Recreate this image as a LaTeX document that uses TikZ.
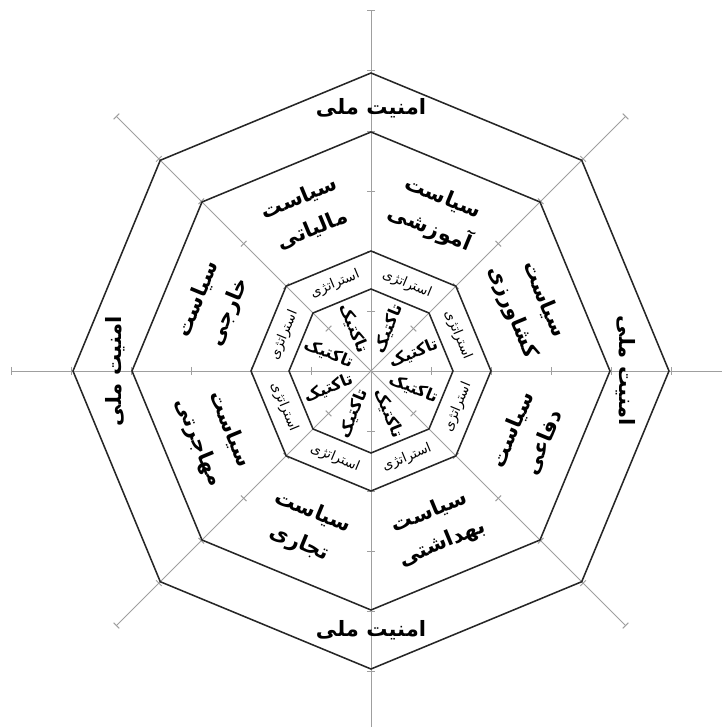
\documentclass[tikz,border=0pt]{standalone}
\usepackage{fontspec}
\newfontfamily\arabicfont[Script=Arabic]{DejaVu Sans}
\TeXXeTstate=1
\usepackage{tikz}
\usetikzlibrary{calc}

\tikzset{
  spoke/.style={draw=gray!75, line width=0.7pt},
  ring/.style={draw=black!85, line width=1.1pt},
  amnlbl/.style={font=\arabicfont\bfseries\fontsize{15}{18}\selectfont, inner sep=1pt},
  siaslbl/.style={font=\arabicfont\bfseries\fontsize{15}{24}\selectfont, align=center, inner sep=1pt},
  stratlbl/.style={font=\arabicfont\fontsize{9.5}{11}\selectfont, inner sep=1pt},
  taclbl/.style={font=\arabicfont\bfseries\fontsize{11.5}{14}\selectfont, inner sep=1pt}
}

\begin{document}
\begin{tikzpicture}[x=0.025cm, y=0.025cm]
    \useasboundingbox (-371,-356) rectangle (350,371);
    % axes with ticks
    \foreach \a in {0,45,...,315} {
        \draw[spoke] (0,0) -- (\a:360);
        \foreach \r in {60,120,...,360}
            \draw[spoke, rotate=\a] (\r,-4) -- (\r,4);
    }
    % octagons
    \foreach \R in {298,239,120,82}
        \draw[ring] (0:\R) -- (45:\R) -- (90:\R) -- (135:\R) -- (180:\R)
            -- (225:\R) -- (270:\R) -- (315:\R) -- cycle;

    % outer band
    \node[amnlbl] (amn-top) at (90:263) {\beginR امنیت ملی\endR};
    \node[amnlbl] (amn-bot) at (270:259) {\beginR امنیت ملی\endR};
    \node[amnlbl, rotate=90] (amn-left) at (180:256) {\beginR امنیت ملی\endR};
    \node[amnlbl, rotate=-90] (amn-right) at (0:255) {\beginR امنیت ملی\endR};

    % policy band
    \node[siaslbl, rotate=-67.5] (sias-1) at (22.5:170) {\beginR سیاست\endR\\\beginR کشاورزی\endR};
    \node[siaslbl, rotate=-22.5] (sias-2) at (67.5:170) {\beginR سیاست\endR\\\beginR آموزشی\endR};
    \node[siaslbl, rotate=22.5] (sias-3) at (112.5:170) {\beginR سیاست\endR\\\beginR مالیاتی\endR};
    \node[siaslbl, rotate=67.5] (sias-4) at (157.5:170) {\beginR سیاست\endR\\\beginR خارجی\endR};
    \node[siaslbl, rotate=-67.5] (sias-5) at (202.5:170) {\beginR سیاست\endR\\\beginR مهاجرتی\endR};
    \node[siaslbl, rotate=-22.5] (sias-6) at (247.5:170) {\beginR سیاست\endR\\\beginR تجاری\endR};
    \node[siaslbl, rotate=22.5] (sias-7) at (292.5:170) {\beginR سیاست\endR\\\beginR بهداشتی\endR};
    \node[siaslbl, rotate=67.5] (sias-8) at (337.5:170) {\beginR سیاست\endR\\\beginR دفاعی\endR};

    % strategy and tactic bands
    \foreach \t/\s/\k in {22.5/-67.5/22.5, 67.5/-22.5/67.5, 112.5/22.5/-67.5, 157.5/67.5/-22.5,
                          202.5/-67.5/22.5, 247.5/-22.5/67.5, 292.5/22.5/-67.5, 337.5/67.5/-22.5} {
        \node[stratlbl, rotate=\s] (strat-\t) at (\t:94) {\beginR استراتژی\endR};
        \node[taclbl, rotate=\k] (tac-\t) at (\t:46) {\beginR تاکتیک\endR};
    }
\end{tikzpicture}
\end{document}
